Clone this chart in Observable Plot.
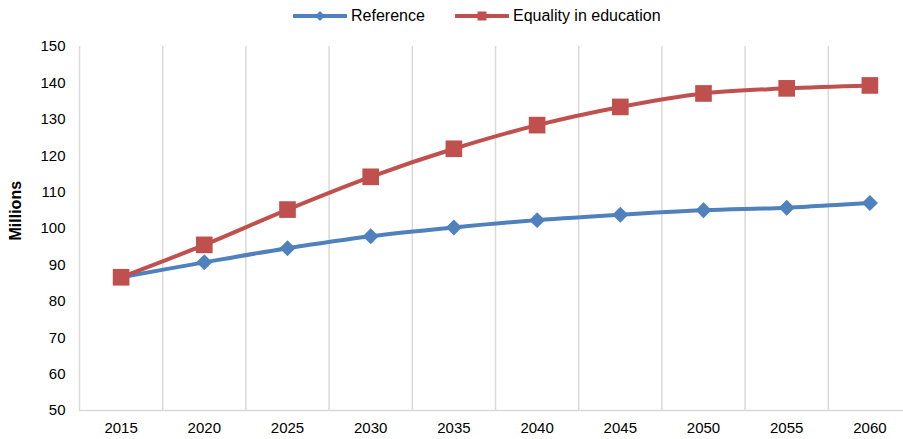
<!DOCTYPE html>
<html>
<head>
<meta charset="utf-8">
<script src="https://cdn.jsdelivr.net/npm/d3@7"></script>
<script src="https://cdn.jsdelivr.net/npm/@observablehq/plot@0.6"></script>
<style>
  body { margin: 0; background: #fff; font-family: "Liberation Sans", Arial, sans-serif; }
  #legend { height: 32px; position: relative; font-size: 16px; color: #000; }
  .item { position: absolute; top: 0; height: 32px; display: flex; align-items: center; }
  .item svg { margin-right: 4px; }
</style>
</head>
<body>
<div id="legend"></div>
<div id="chart"></div>
<script>
const years = [2015, 2020, 2025, 2030, 2035, 2040, 2045, 2050, 2055, 2060];
const reference = [86.6, 90.7, 94.6, 97.9, 100.3, 102.3, 103.8, 105.0, 105.7, 107.0];
const equality = [86.6, 95.5, 105.2, 114.2, 121.9, 128.4, 133.4, 137.1, 138.5, 139.3];
const yTicks = [50, 60, 70, 80, 90, 100, 110, 120, 130, 140, 150];
const seriesNames = ["Reference", "Equality in education"];
const colors = ["#4F81BD", "#C0504D"];
const symbols = ["diamond2", "square"];

const rows = [];
[reference, equality].forEach((vals, s) => {
  years.forEach((yr, i) => rows.push({series: seriesNames[s], year: yr, value: vals[i]}));
});
// category boundaries sit halfway between consecutive years
const bounds = years.map(y => y - 2.5);

// legend
const legend = document.getElementById("legend");
const legendPos = [293, 455];
seriesNames.forEach((name, s) => {
  const item = document.createElement("div");
  item.className = "item";
  item.style.left = legendPos[s] + "px";
  const mark = s === 0
    ? `<polygon points="27,11 32,16 27,21 22,16" fill="${colors[s]}"/>`
    : `<rect x="22.5" y="11.5" width="9" height="9" fill="${colors[s]}"/>`;
  item.innerHTML = `<svg width="54" height="32"><line x1="1" x2="53" y1="16" y2="16" stroke="${colors[s]}" stroke-width="4" stroke-linecap="round"/>${mark}</svg><span>${name}</span>`;
  legend.appendChild(item);
});

const chart = Plot.plot({
  width: 903,
  height: 407,
  marginTop: 14,
  marginBottom: 29,
  marginLeft: 79,
  marginRight: 0,
  style: {fontFamily: "Liberation Sans, Arial, sans-serif", fontSize: "15px", color: "#000", background: "#fff"},
  x: {type: "linear", domain: [2012.5, 2062.5], range: [79, 911]},
  y: {domain: [50, 150]},
  color: {domain: seriesNames, range: colors},
  symbol: {domain: seriesNames, range: symbols},
  marks: [
    Plot.ruleX(bounds, {stroke: "#d9d9d9", strokeWidth: 1.5}),
    Plot.ruleY([50], {stroke: "#d9d9d9", strokeWidth: 1.5}),
    Plot.axisY({ticks: yTicks, tickSize: 0, tickPadding: 14, label: null, fontSize: 15}),
    Plot.axisX({ticks: years, tickSize: 0, tickPadding: 12, tickFormat: d => String(d), label: null, fontSize: 15}),
    Plot.text(["Millions"], {frameAnchor: "left", rotate: -90, dx: -64, dy: 12, fontWeight: "bold", fontSize: 16, fill: "#000"}),
    Plot.line(rows, {x: "year", y: "value", stroke: "series", strokeWidth: 4, curve: "catmull-rom"}),
    Plot.dot(rows.filter(d => d.series === seriesNames[0]), {x: "year", y: "value", symbol: "series", fill: "series", r: 7.2, stroke: "none"}),
    Plot.dot(rows.filter(d => d.series === seriesNames[1]), {x: "year", y: "value", symbol: "series", fill: "series", r: 9.4, stroke: "none"})
  ]
});
document.getElementById("chart").appendChild(chart);
</script>
</body>
</html>
